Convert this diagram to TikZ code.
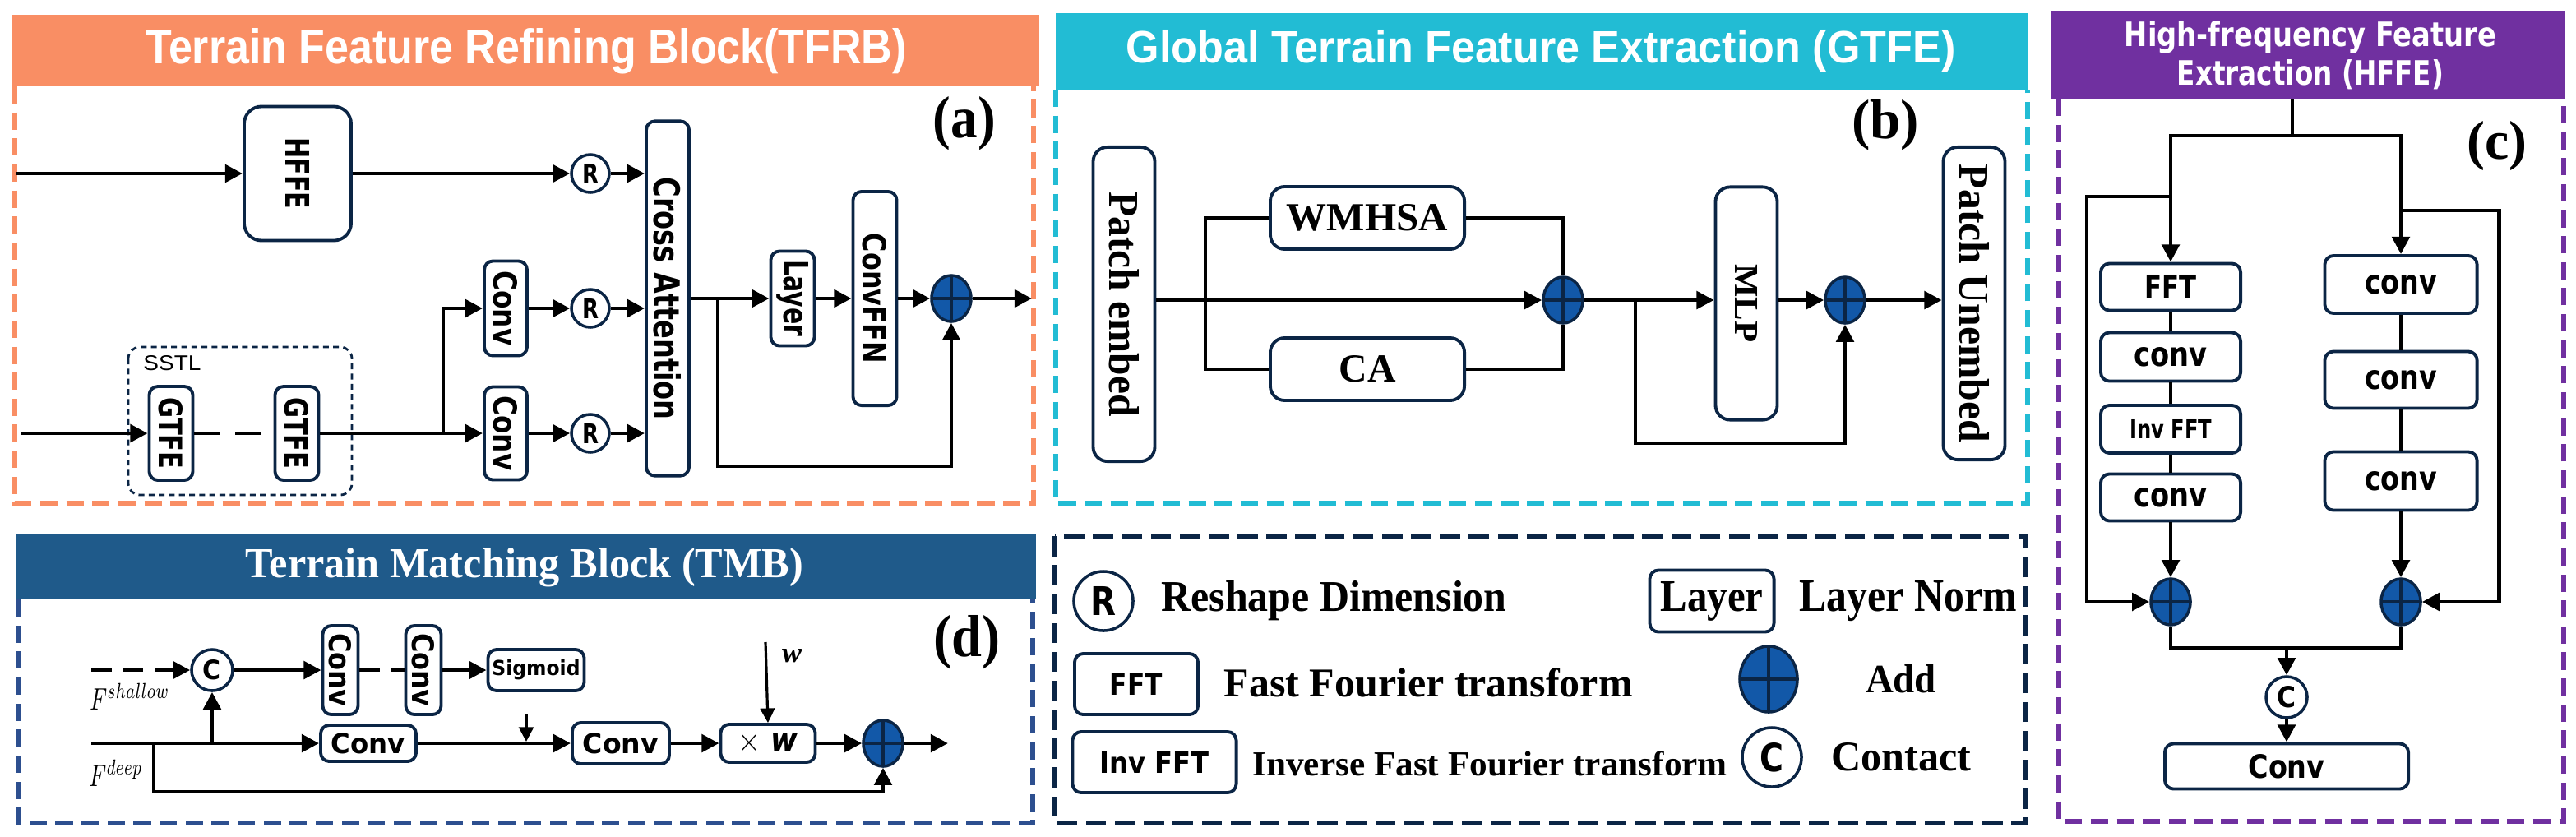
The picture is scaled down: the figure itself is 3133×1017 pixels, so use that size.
\documentclass[tikz,border=0pt]{standalone}
\usepackage{fontspec}
\usepackage{graphicx}
\setmainfont{Liberation Serif}
\newfontfamily\dv{DejaVu Sans}
\newfontfamily\ls{Liberation Sans}
\usetikzlibrary{arrows.meta,calc,shapes.geometric}
\newcommand\fitb[3]{\resizebox{#1}{#2}{#3}}
\definecolor{navy}{HTML}{0B2545}
\definecolor{orangeH}{HTML}{F98E64}
\definecolor{cyanH}{HTML}{22BCD4}
\definecolor{purpH}{HTML}{7030A0}
\definecolor{tmbH}{HTML}{1F5A8A}
\definecolor{tmbF}{HTML}{2D4F8F}
\definecolor{addb}{HTML}{1258A8}
\tikzset{
 box/.style={draw=navy,line width=1.1pt,rounded corners=3pt,fill=white,inner sep=0pt},
 rbox/.style={box,rotate=-90},
 ln/.style={line width=1.4pt},
 arr/.style={line width=1.4pt,-{Triangle[length=6pt,width=6pt]}},
 frame/.style={line width=1.5pt,dash pattern=on 6pt off 3pt},
 circ/.style={circle,draw=navy,line width=1pt,fill=white,inner sep=0pt,minimum size=#1},
 addc/.style={ellipse,fill=addb,draw=navy,line width=1pt,inner sep=0pt,minimum width=4.8mm,minimum height=5.6mm,
   path picture={\draw[navy,line width=1pt] (path picture bounding box.north) -- (path picture bounding box.south) (path picture bounding box.west) -- (path picture bounding box.east);}},
}
\begin{document}
\begin{tikzpicture}[x=0.01cm,y=-0.01cm]
\useasboundingbox (0,0) rectangle (3133,1017);
% ================= Panel a =================
\fill[orangeH] (15,18) rectangle (1264,105);
\node[text=white] (ta) at (640,62) {\fitb{92.5mm}{4.3mm}{\ls\bfseries Terrain Feature Refining Block(TFRB)}};
\draw[orangeH,frame] (18,105) -- (18,612) -- (1257,612) -- (1257,105);
\node (la) at (1173,150) {\fitb{7.6mm}{5.0mm}{\bfseries (a)}};
\draw[navy,line width=0.8pt,dash pattern=on 2pt off 1.5pt,rounded corners=4pt] (156,422) rectangle (428,602);
\node[anchor=west] (sstl) at (162,442) {\fitb{7.0mm}{1.8mm}{\ls SSTL}};
\node[rbox,rounded corners=6pt,minimum width=16.3mm,minimum height=13mm] (hffe) at (362,211) {\fitb{8.7mm}{2.9mm}{\dv\bfseries HFFE}};
\node[circ=4.6mm] (r1) at (718,211) {\fitb{2.0mm}{2.4mm}{\dv\bfseries R}};
\node[circ=4.6mm] (r2) at (718,375) {\fitb{2.0mm}{2.4mm}{\dv\bfseries R}};
\node[circ=4.6mm] (r3) at (718,527) {\fitb{2.0mm}{2.4mm}{\dv\bfseries R}};
\node[rbox,minimum width=43.1mm,minimum height=5.2mm] (ca) at (812,363) {\fitb{29.5mm}{3.3mm}{\dv\bfseries Cross Attention}};
\node[rbox,minimum width=11.5mm,minimum height=5.2mm] (c1) at (615,375) {\fitb{9.1mm}{2.9mm}{\dv\bfseries Conv}};
\node[rbox,minimum width=11.3mm,minimum height=5.2mm] (c2) at (615,527) {\fitb{9.1mm}{2.9mm}{\dv\bfseries Conv}};
\node[rbox,minimum width=11.5mm,minimum height=5.3mm] (lay) at (964,363) {\fitb{9.3mm}{3.0mm}{\dv\bfseries Layer}};
\node[rbox,minimum width=26mm,minimum height=5.3mm] (ffn) at (1064,363) {\fitb{15.8mm}{2.9mm}{\dv\bfseries ConvFFN}};
\node[addc] (a1) at (1157,363) {};
\node[rbox,minimum width=11.4mm,minimum height=5.3mm] (g1) at (208,527) {\fitb{8.7mm}{2.9mm}{\dv\bfseries GTFE}};
\node[rbox,minimum width=11.4mm,minimum height=5.3mm] (g2) at (361,527) {\fitb{8.7mm}{2.9mm}{\dv\bfseries GTFE}};
\coordinate (ina) at (20,211);
\coordinate (inb) at (25,527);
\coordinate (br) at (539,527);
\coordinate (sk) at (873,363);
\coordinate (outa) at (1255,363);
\draw[arr] (ina) -- (hffe.south);
\draw[arr] (hffe.north) -- (r1.west);
\draw[arr] (r1.east) -- (r1.east -| ca.south);
\draw[arr] (c1.north) -- (r2.west);
\draw[arr] (r2.east) -- (r2.east -| ca.south);
\draw[arr] (c2.north) -- (r3.west);
\draw[arr] (r3.east) -- (r3.east -| ca.south);
\draw[arr] (inb) -- (g1.south);
\draw[ln,dash pattern=on 9pt off 5pt] (g1.north) -- (g2.south);
\draw[arr] (g2.north) -- (c2.south);
\draw[arr] (br) |- (c1.south);
\draw[arr] (ca.north) -- (lay.south);
\draw[arr] (lay.north) -- (ffn.south);
\draw[arr] (ffn.north) -- (a1.west);
\draw[arr] (a1.east) -- (outa);
\draw[arr] (sk) -- (873,567) -| (a1.south);
% ================= Panel b =================
\fill[cyanH] (1284,16) rectangle (2466,109);
\node[text=white] (tb) at (1874,62) {\fitb{100.8mm}{4.0mm}{\ls\bfseries Global Terrain Feature Extraction (GTFE)}};
\draw[cyanH,frame] (1284,109) -- (1284,612) -- (2466,612) -- (2466,109);
\node (lb) at (2293,152) {\fitb{8.2mm}{4.7mm}{\bfseries (b)}};
\node[rbox,rounded corners=5pt,minimum width=38.2mm,minimum height=7.5mm] (pe) at (1367,370) {\fitb{27.3mm}{3.6mm}{\bfseries Patch embed}};
\node[box,rounded corners=5pt,minimum width=23.6mm,minimum height=7.6mm] (wm) at (1663,265) {\fitb{19.6mm}{3.2mm}{\bfseries WMHSA}};
\node[box,rounded corners=5pt,minimum width=23.6mm,minimum height=7.6mm] (cab) at (1663,449) {\fitb{6.9mm}{3.2mm}{\bfseries CA}};
\node[addc] (a2) at (1901,365) {};
\node[rbox,rounded corners=5pt,minimum width=28.3mm,minimum height=7.5mm] (mlp) at (2124,369) {\fitb{9.5mm}{2.7mm}{\bfseries MLP}};
\node[addc] (a3) at (2244,365) {};
\node[rbox,rounded corners=5pt,minimum width=38mm,minimum height=7.5mm] (pu) at (2401,369) {\fitb{33.8mm}{3.6mm}{\bfseries Patch Unembed}};
\draw[arr] (pe.north |- a2) -- (a2.west);
\draw[ln] (wm.west) -- ++(-77,0) |- (cab.west);
\draw[ln] (wm.east) -| (a2.north);
\draw[ln] (cab.east) -| (a2.south);
\draw[arr] (a2.east) -- (a2 -| mlp.south);
\draw[arr] (a2 -| mlp.north) -- (a3.west);
\draw[arr] (a3.east) -- (a3 -| pu.south);
\coordinate (skb) at (1989,365);
\draw[arr] (skb) -- (1989,539) -| (a3.south);
% ================= Panel c =================
\fill[purpH] (2495,13) rectangle (3120,120);
\node[text=white] (tc1) at (2810,45) {\fitb{45.2mm}{3.1mm}{\dv\bfseries High-frequency Feature}};
\node[text=white] (tc2) at (2810,91) {\fitb{32.4mm}{3.1mm}{\dv\bfseries Extraction (HFFE)}};
\draw[purpH,frame] (2504,120) -- (2504,999) -- (3118,999) -- (3118,120);
\node (lc) at (3037,178) {\fitb{7.3mm}{4.6mm}{\bfseries (c)}};
\node[box,minimum width=17mm,minimum height=5.7mm] (fft) at (2640,349) {\fitb{6.3mm}{2.9mm}{\dv\bfseries FFT}};
\node[box,minimum width=17mm,minimum height=5.9mm] (cv1) at (2640,434) {\fitb{8.9mm}{2.3mm}{\dv\bfseries conv}};
\node[box,minimum width=17mm,minimum height=5.8mm] (inv) at (2640,522) {\fitb{10.0mm}{2.3mm}{\dv\bfseries Inv FFT}};
\node[box,minimum width=17mm,minimum height=5.7mm] (cv2) at (2640,605) {\fitb{8.9mm}{2.3mm}{\dv\bfseries conv}};
\node[box,minimum width=18.5mm,minimum height=7.0mm] (rc1) at (2920,346) {\fitb{8.8mm}{2.3mm}{\dv\bfseries conv}};
\node[box,minimum width=18.5mm,minimum height=6.9mm] (rc2) at (2920,462) {\fitb{8.8mm}{2.3mm}{\dv\bfseries conv}};
\node[box,minimum width=18.5mm,minimum height=7.1mm] (rc3) at (2920,585) {\fitb{8.8mm}{2.3mm}{\dv\bfseries conv}};
\node[addc] (al) at (2640,732) {};
\node[addc] (ar) at (2920,732) {};
\node[circ=5.0mm] (cc) at (2781,848) {\fitb{2.3mm}{2.6mm}{\dv\bfseries C}};
\node[box,minimum width=29.6mm,minimum height=5.5mm] (cconv) at (2781,932) {\fitb{9.3mm}{2.9mm}{\dv\bfseries Conv}};
\coordinate (ct) at (2788,120);
\coordinate (cs) at (2788,165);
\draw[ln] (ct) -- (cs);
\draw[arr] (cs) -| (fft.north);
\draw[arr] (cs) -| (rc1.north);
\draw[arr] (2640,239) -- (2538,239) |- (al.west);
\draw[arr] (2920,256) -- (3039,256) |- (ar.east);
\draw[ln] (fft.south) -- (cv1.north) (cv1.south) -- (inv.north) (inv.south) -- (cv2.north);
\draw[ln] (rc1.south) -- (rc2.north) (rc2.south) -- (rc3.north);
\draw[arr] (cv2.south) -- (al.north);
\draw[arr] (rc3.south) -- (ar.north);
\draw[ln] (al.south) |- (2781,788) -| (ar.south);
\draw[arr] (2781,788) -- (cc.north);
\draw[arr] (cc.south) -- (cconv.north);
% ================= Panel d =================
\fill[tmbH] (20,650) rectangle (1260,729);
\node[text=white] (td) at (638,690) {\fitb{67.8mm}{3.6mm}{\bfseries Terrain Matching Block (TMB)}};
\draw[tmbF,frame] (23,729) -- (23,1001) -- (1256,1001) -- (1256,729);
\node (ld) at (1176,781) {\fitb{8.1mm}{5.0mm}{\bfseries (d)}};
\node[circ=5.0mm] (cd) at (258,815) {\fitb{2.2mm}{2.4mm}{\dv\bfseries C}};
\node[rbox,minimum width=10.8mm,minimum height=4.3mm] (cva) at (414,815) {\fitb{8.9mm}{2.7mm}{\dv\bfseries Conv}};
\node[rbox,minimum width=10.8mm,minimum height=4.3mm] (cvb) at (515,815) {\fitb{8.9mm}{2.7mm}{\dv\bfseries Conv}};
\node[box,minimum width=11.7mm,minimum height=5.0mm] (sig) at (652,815) {\fitb{10.7mm}{1.9mm}{\dv\bfseries Sigmoid}};
\node[box,minimum width=11.6mm,minimum height=4.4mm] (cd1) at (448,904) {\fitb{9.0mm}{2.5mm}{\dv\bfseries Conv}};
\node[box,minimum width=11.8mm,minimum height=5.0mm] (cd2) at (755,904) {\fitb{9.2mm}{2.5mm}{\dv\bfseries Conv}};
\node[box,minimum width=11.5mm,minimum height=4.6mm] (xw) at (934,904) {\fitb{7.3mm}{2.3mm}{\dv\bfseries $\times$ \itshape w}};
\node[addc] (ad) at (1074,904) {};
\node (fsh) at (158,847) {\fitb{9.7mm}{3.2mm}{$F^{shallow}$}};
\node (fdp) at (141,940) {\fitb{6.5mm}{3.2mm}{$F^{deep}$}};
\node (wl) at (963,798) {\fitb{2.4mm}{1.6mm}{\bfseries\itshape w}};
\coordinate (fs0) at (111,815);
\coordinate (fd0) at (111,904);
\coordinate (up) at (258,904);
\coordinate (skd) at (187,904);
\coordinate (sm0) at (640,868);
\coordinate (sm1) at (640,902);
\coordinate (w0) at (931,781);
\coordinate (outd) at (1153,904);
\draw[arr,dash pattern=on 7pt off 4pt] (fs0) -- (cd.west);
\draw[arr] (fd0) -- (cd1.west);
\draw[arr] (up) -- (cd.south);
\draw[arr] (skd) -- (187,963) -| (ad.south);
\draw[arr] (cd.east) -- (cva.south);
\draw[ln,dash pattern=on 7pt off 4pt] (cva.north) -- (cvb.south);
\draw[arr] (cvb.north) -- (sig.west);
\draw[arr] (cd1.east) -- (cd2.west);
\draw[line width=1pt,-{Triangle[length=5pt,width=5pt]}] (sm0) -- (sm1);
\draw[line width=0.9pt,-{Triangle[length=5pt,width=5pt]}] (w0) -- (xw.north);
\draw[arr] (cd2.east) -- (xw.west);
\draw[arr] (xw.east) -- (ad.west);
\draw[arr] (ad.east) -- (outd);
% ================= Legend =================
\draw[navy,line width=1.7pt,dash pattern=on 7pt off 3pt] (1283,652) rectangle (2464,1001);
\node[circ=7.2mm] (lr) at (1342,731) {\fitb{3.1mm}{3.5mm}{\dv\bfseries R}};
\node[anchor=west] (lrt) at (1400,731) {\fitb{42.0mm}{3.7mm}{\bfseries Reshape Dimension}};
\node[box,minimum width=15.1mm,minimum height=7.5mm] (llay) at (2082,731) {\fitb{12.5mm}{3.6mm}{\bfseries Layer}};
\node[anchor=west] (llt) at (2176,731) {\fitb{26.4mm}{3.7mm}{\bfseries Layer Norm}};
\node[box,minimum width=15.0mm,minimum height=7.4mm] (lfft) at (1382,832) {\fitb{6.4mm}{2.6mm}{\dv\bfseries FFT}};
\node[anchor=west] (lft) at (1476,830) {\fitb{49.7mm}{3.5mm}{\bfseries Fast Fourier transform}};
\node[addc,minimum width=7.0mm,minimum height=8.0mm] (ladd) at (2151,826) {};
\node (lat) at (2312,826) {\fitb{8.6mm}{3.4mm}{\bfseries Add}};
\node[box,minimum width=19.9mm,minimum height=7.4mm] (linv) at (1404,927) {\fitb{13.3mm}{2.6mm}{\dv\bfseries Inv FFT}};
\node[anchor=west] (lit) at (1511,929) {\fitb{57.7mm}{3.0mm}{\bfseries Inverse Fast Fourier transform}};
\node[circ=7.2mm] (lc2) at (2155,921) {\fitb{2.9mm}{3.5mm}{\dv\bfseries C}};
\node[anchor=west] (lct) at (2215,921) {\fitb{17.0mm}{3.4mm}{\bfseries Contact}};
\end{tikzpicture}
\end{document}
